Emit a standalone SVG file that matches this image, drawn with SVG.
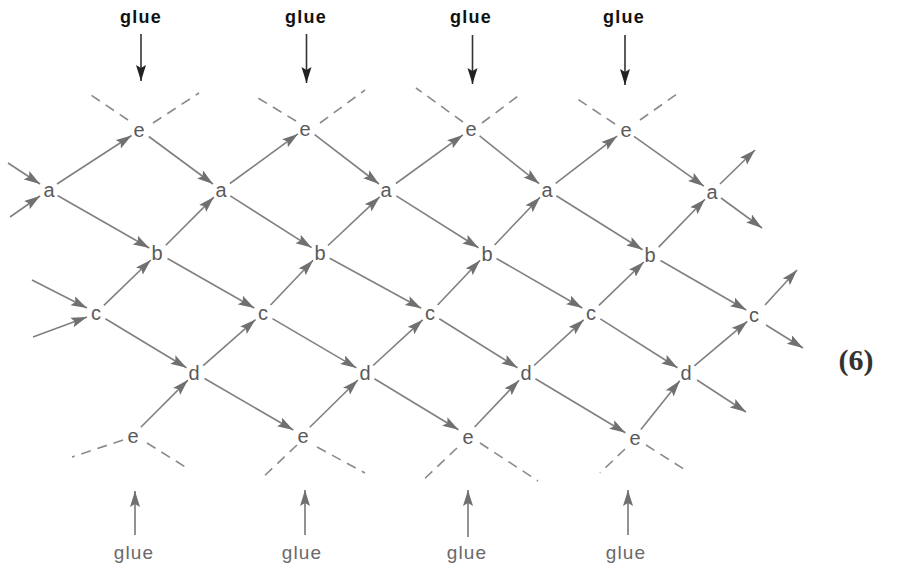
<svg xmlns="http://www.w3.org/2000/svg" width="906" height="568" viewBox="0 0 906 568">
<style>
.n{font-family:"Liberation Sans",Arial,sans-serif;font-size:20px;fill:#5a5a5a;text-anchor:middle;dominant-baseline:central}
.gt{font-family:"Liberation Sans",Arial,sans-serif;font-size:18px;font-weight:bold;fill:#111;text-anchor:middle;letter-spacing:1.2px}
.gb{font-family:"Liberation Sans",Arial,sans-serif;font-size:19px;fill:#6a6a6a;text-anchor:middle;letter-spacing:1.2px}
.e{stroke:#808080;stroke-width:1.6;fill:none;marker-end:url(#ah)}
.d{stroke:#8a8a8a;stroke-width:1.6;fill:none;stroke-dasharray:10 7}
.gtop{stroke:#333;stroke-width:1.6;fill:none;marker-end:url(#ahd)}
.gbot{stroke:#777;stroke-width:1.6;fill:none;marker-end:url(#ah)}
.eq{font-family:"Liberation Serif","Times New Roman",serif;font-size:30px;font-weight:bold;fill:#333;text-anchor:middle}
</style>
<defs>
<marker id="ah" markerUnits="userSpaceOnUse" markerWidth="17" markerHeight="11" refX="16" refY="5" orient="auto">
<path d="M0,0 L16,5 L0,10 L3,5 z" fill="#707070"/>
</marker>
<marker id="ahd" markerUnits="userSpaceOnUse" markerWidth="17" markerHeight="11" refX="16" refY="5" orient="auto">
<path d="M0,0 L16,5 L0,10 L3,5 z" fill="#222"/>
</marker>
</defs>
<g id="connectors">
<line class="e" x1="57" y1="184" x2="131.6" y2="135.5"/>
<line class="e" x1="148.8" y1="136.5" x2="213" y2="184"/>
<line class="e" x1="229.9" y1="183.5" x2="297.9" y2="133.9"/>
<line class="e" x1="314.7" y1="134.7" x2="379" y2="184"/>
<line class="e" x1="395.9" y1="183.5" x2="462.9" y2="134.9"/>
<line class="e" x1="479.6" y1="135.9" x2="539.2" y2="183.7"/>
<line class="e" x1="555.7" y1="183.3" x2="617.1" y2="136.1"/>
<line class="e" x1="634" y1="136.4" x2="703.9" y2="186.2"/>
<line class="e" x1="57.5" y1="195.5" x2="149.3" y2="248"/>
<line class="e" x1="165.8" y1="245.2" x2="213.9" y2="197.1"/>
<line class="e" x1="230.3" y1="195.9" x2="311.6" y2="247.6"/>
<line class="e" x1="328" y1="245.5" x2="379.7" y2="196.9"/>
<line class="e" x1="396.3" y1="195.9" x2="478.5" y2="247.7"/>
<line class="e" x1="494.6" y1="245" x2="540.1" y2="197.2"/>
<line class="e" x1="556.3" y1="195.8" x2="642.5" y2="249.7"/>
<line class="e" x1="658.7" y1="247.1" x2="705" y2="199.2"/>
<line class="e" x1="103.9" y1="305.4" x2="150.8" y2="260"/>
<line class="e" x1="167.5" y1="258.5" x2="254.3" y2="308"/>
<line class="e" x1="270.6" y1="305" x2="313.1" y2="260.3"/>
<line class="e" x1="329.7" y1="258.3" x2="421.2" y2="308.2"/>
<line class="e" x1="437.6" y1="305" x2="480.1" y2="260.3"/>
<line class="e" x1="496.5" y1="258.5" x2="582.3" y2="308"/>
<line class="e" x1="598.9" y1="305.4" x2="643.8" y2="262"/>
<line class="e" x1="660.5" y1="260.5" x2="746.3" y2="310"/>
<line class="e" x1="105.4" y1="318.7" x2="186.5" y2="367.8"/>
<line class="e" x1="203.2" y1="365.7" x2="255.5" y2="319.6"/>
<line class="e" x1="272.5" y1="318.6" x2="356.4" y2="367.9"/>
<line class="e" x1="373.1" y1="365.5" x2="422.7" y2="319.8"/>
<line class="e" x1="439.3" y1="318.8" x2="517.5" y2="367.7"/>
<line class="e" x1="534.1" y1="365.5" x2="583.7" y2="319.8"/>
<line class="e" x1="600.3" y1="318.9" x2="677.5" y2="367.7"/>
<line class="e" x1="694.4" y1="365.9" x2="747.3" y2="321.4"/>
<line class="e" x1="140.8" y1="427.2" x2="187.9" y2="380.1"/>
<line class="e" x1="204.5" y1="378.5" x2="293.3" y2="430"/>
<line class="e" x1="309.8" y1="427.3" x2="357.9" y2="380"/>
<line class="e" x1="374.4" y1="378.7" x2="458.5" y2="429.8"/>
<line class="e" x1="474.6" y1="427" x2="519.1" y2="380.2"/>
<line class="e" x1="535.4" y1="378.7" x2="625.4" y2="432.8"/>
<line class="e" x1="640.9" y1="429.4" x2="679.8" y2="380.8"/>
<line class="e" x1="8" y1="163" x2="40" y2="184"/>
<line class="e" x1="10" y1="217" x2="40" y2="196"/>
<line class="e" x1="32" y1="280" x2="87" y2="308"/>
<line class="e" x1="33" y1="337" x2="87" y2="317"/>
<line class="e" x1="720" y1="184" x2="755" y2="150"/>
<line class="e" x1="721" y1="198" x2="762" y2="228"/>
<line class="e" x1="765" y1="305" x2="797" y2="270"/>
<line class="e" x1="766" y1="325" x2="803" y2="348"/>
<line class="e" x1="697" y1="380" x2="746" y2="412"/>
<line class="d" x1="128" y1="120" x2="88" y2="93"/>
<line class="d" x1="153" y1="123" x2="199" y2="93"/>
<line class="d" x1="296" y1="121" x2="253" y2="95"/>
<line class="d" x1="320" y1="123" x2="365" y2="90"/>
<line class="d" x1="463" y1="122" x2="416" y2="88"/>
<line class="d" x1="482" y1="123" x2="522" y2="93"/>
<line class="d" x1="615" y1="124" x2="573" y2="96"/>
<line class="d" x1="640" y1="120" x2="677" y2="94"/>
<line class="d" x1="123" y1="440" x2="72" y2="457"/>
<line class="d" x1="147" y1="443" x2="187" y2="468"/>
<line class="d" x1="297" y1="445" x2="260" y2="480"/>
<line class="d" x1="317" y1="447" x2="365" y2="473"/>
<line class="d" x1="457" y1="448" x2="420" y2="483"/>
<line class="d" x1="480" y1="443" x2="538" y2="481"/>
<line class="d" x1="625" y1="449" x2="600" y2="473"/>
<line class="d" x1="646" y1="445" x2="687" y2="471"/>
<line class="gtop" x1="141" y1="34" x2="141" y2="81"/>
<line class="gtop" x1="306.5" y1="34" x2="306.5" y2="83"/>
<line class="gtop" x1="472.5" y1="35" x2="472.5" y2="84"/>
<line class="gtop" x1="625" y1="35" x2="625" y2="85"/>
<line class="gbot" x1="135" y1="535" x2="135" y2="491"/>
<line class="gbot" x1="305" y1="535" x2="305" y2="490"/>
<line class="gbot" x1="468" y1="537" x2="468" y2="490"/>
<line class="gbot" x1="628" y1="535" x2="628" y2="490"/>
</g>
<g id="glue-top-1"><text class="gt" x="141" y="23">glue</text></g>
<g id="glue-top-2"><text class="gt" x="306" y="23">glue</text></g>
<g id="glue-top-3"><text class="gt" x="471" y="23">glue</text></g>
<g id="glue-top-4"><text class="gt" x="624" y="23">glue</text></g>
<g id="glue-bot-1"><text class="gb" x="134" y="559">glue</text></g>
<g id="glue-bot-2"><text class="gb" x="302" y="559">glue</text></g>
<g id="glue-bot-3"><text class="gb" x="467" y="559">glue</text></g>
<g id="glue-bot-4"><text class="gb" x="626" y="559">glue</text></g>
<g id="e-top-1"><text class="n" x="139" y="130">e</text></g>
<g id="e-top-2"><text class="n" x="305" y="129">e</text></g>
<g id="e-top-3"><text class="n" x="471" y="129">e</text></g>
<g id="e-top-4"><text class="n" x="626" y="130">e</text></g>
<g id="a-0"><text class="n" x="49" y="190">a</text></g>
<g id="a-1"><text class="n" x="221" y="190">a</text></g>
<g id="a-2"><text class="n" x="386" y="190">a</text></g>
<g id="a-3"><text class="n" x="547" y="190">a</text></g>
<g id="a-4"><text class="n" x="712" y="192">a</text></g>
<g id="b-0"><text class="n" x="157" y="253">b</text></g>
<g id="b-1"><text class="n" x="320" y="253">b</text></g>
<g id="b-2"><text class="n" x="487" y="254">b</text></g>
<g id="b-3"><text class="n" x="650" y="255">b</text></g>
<g id="c-0"><text class="n" x="96" y="313">c</text></g>
<g id="c-1"><text class="n" x="263" y="313">c</text></g>
<g id="c-2"><text class="n" x="430" y="313">c</text></g>
<g id="c-3"><text class="n" x="591" y="313">c</text></g>
<g id="c-4"><text class="n" x="754" y="315">c</text></g>
<g id="d-0"><text class="n" x="194" y="373">d</text></g>
<g id="d-1"><text class="n" x="365" y="373">d</text></g>
<g id="d-2"><text class="n" x="526" y="373">d</text></g>
<g id="d-3"><text class="n" x="686" y="373">d</text></g>
<g id="e-bot-1"><text class="n" x="133" y="436">e</text></g>
<g id="e-bot-2"><text class="n" x="303" y="436">e</text></g>
<g id="e-bot-3"><text class="n" x="468" y="437">e</text></g>
<g id="e-bot-4"><text class="n" x="635" y="438">e</text></g>
<g id="eqnum"><text class="eq" x="856" y="370">(6)</text></g>
</svg>
